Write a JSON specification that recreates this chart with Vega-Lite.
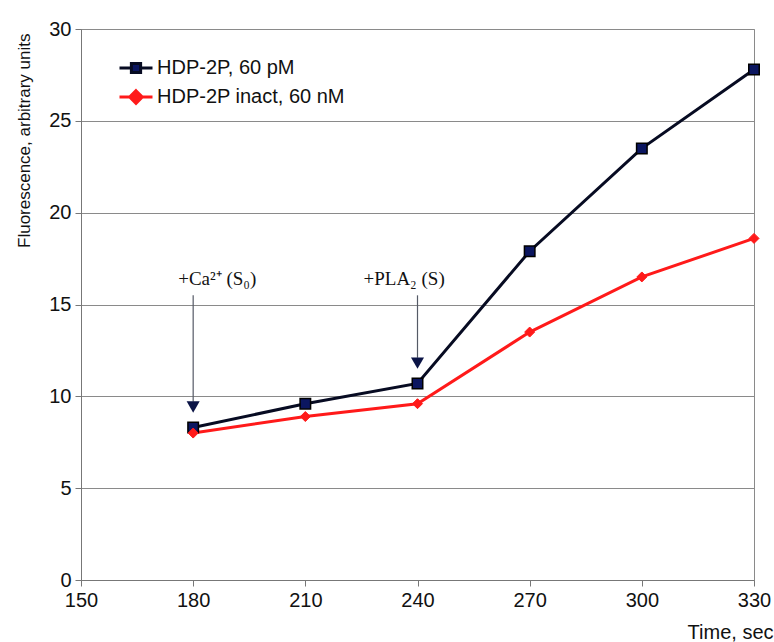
{
  "$schema": "https://vega.github.io/schema/vega-lite/v6.json",
  "width": 673,
  "height": 551,
  "autosize": {"type": "none"},
  "padding": {"left": 81, "top": 29, "right": 20, "bottom": 62},
  "background": "white",
  "config": {
    "view": {"stroke": "#8a8a8a", "strokeWidth": 1},
    "font": "Liberation Sans"
  },
  "datasets": {
    "series": [
      {"time": 180, "value": 8.3, "series": "HDP-2P, 60 pM"},
      {"time": 210, "value": 9.6, "series": "HDP-2P, 60 pM"},
      {"time": 240, "value": 10.7, "series": "HDP-2P, 60 pM"},
      {"time": 270, "value": 17.9, "series": "HDP-2P, 60 pM"},
      {"time": 300, "value": 23.5, "series": "HDP-2P, 60 pM"},
      {"time": 330, "value": 27.8, "series": "HDP-2P, 60 pM"},
      {"time": 180, "value": 8.0, "series": "HDP-2P inact, 60 nM"},
      {"time": 210, "value": 8.9, "series": "HDP-2P inact, 60 nM"},
      {"time": 240, "value": 9.6, "series": "HDP-2P inact, 60 nM"},
      {"time": 270, "value": 13.5, "series": "HDP-2P inact, 60 nM"},
      {"time": 300, "value": 16.5, "series": "HDP-2P inact, 60 nM"},
      {"time": 330, "value": 18.6, "series": "HDP-2P inact, 60 nM"}
    ],
    "arrows": [
      {"time": 180, "top": 15.5, "bottom": 9.7, "head": 9.42, "labelY": 16.06, "label": "+Ca²⁺ (S₀)"},
      {"time": 240, "top": 15.5, "bottom": 12.1, "head": 11.81, "labelY": 16.06, "label": "+PLA₂ (S)"}
    ]
  },
  "layer": [
    {
      "data": {"name": "arrows"},
      "mark": {"type": "rule", "color": "#555a66", "strokeWidth": 1.2},
      "encoding": {
        "x": {"field": "time", "type": "quantitative", "scale": {"domain": [150, 330]}},
        "y": {"field": "top", "type": "quantitative"},
        "y2": {"field": "bottom"}
      }
    },
    {
      "data": {"name": "arrows"},
      "mark": {"type": "point", "shape": "triangle-down", "filled": true, "color": "#0b1446", "size": 170, "opacity": 1},
      "encoding": {
        "x": {"field": "time", "type": "quantitative"},
        "y": {"field": "head", "type": "quantitative"}
      }
    },
    {
      "data": {"name": "arrows"},
      "transform": [{"filter": "datum.time === 180"}],
      "mark": {"type": "text", "font": "Liberation Serif", "fontSize": 19, "color": "#111", "align": "left", "baseline": "alphabetic", "dx": -15},
      "encoding": {
        "x": {"field": "time", "type": "quantitative"},
        "y": {"field": "labelY", "type": "quantitative"},
        "text": {"field": "label"}
      }
    },
    {
      "data": {"name": "arrows"},
      "transform": [{"filter": "datum.time === 240"}],
      "mark": {"type": "text", "font": "Liberation Serif", "fontSize": 19, "color": "#111", "align": "left", "baseline": "alphabetic", "dx": -54},
      "encoding": {
        "x": {"field": "time", "type": "quantitative"},
        "y": {"field": "labelY", "type": "quantitative"},
        "text": {"field": "label"}
      }
    },
    {
      "data": {"name": "series"},
      "mark": {"type": "line", "strokeWidth": 3},
      "encoding": {
        "x": {
          "field": "time", "type": "quantitative",
          "scale": {"domain": [150, 330], "nice": false, "zero": false},
          "axis": {
            "values": [150, 180, 210, 240, 270, 300, 330],
            "grid": false,
            "title": "Time, sec",
            "titleFontSize": 20,
            "titleFontWeight": "normal",
            "titleColor": "#111",
            "titleAnchor": "end",
            "titleAlign": "right",
            "titleBaseline": "alphabetic",
            "titleX": 692,
            "titleY": 58,
            "labelFontSize": 20,
            "labelColor": "#111",
            "labelPadding": 4,
            "tickSize": 6,
            "tickColor": "#777",
            "domainColor": "#777",
            "labelFlush": false
          }
        },
        "y": {
          "field": "value", "type": "quantitative",
          "scale": {"domain": [0, 30], "nice": false},
          "axis": {
            "values": [0, 5, 10, 15, 20, 25, 30],
            "grid": true,
            "gridColor": "#8a8a8a",
            "gridWidth": 1,
            "title": "Fluorescence, arbitrary units",
            "titleFontSize": 17,
            "titleFontWeight": "normal",
            "titleColor": "#111",
            "titleAnchor": "end",
            "titleAlign": "right",
            "titleBaseline": "bottom",
            "titleAngle": -90,
            "titleX": -48,
            "titleY": 4,
            "labelFontSize": 20,
            "labelColor": "#111",
            "labelPadding": 4,
            "tickSize": 6,
            "tickColor": "#777",
            "domainColor": "#777",
            "labelFlush": false
          }
        },
        "color": {
          "field": "series", "type": "nominal",
          "scale": {"domain": ["HDP-2P, 60 pM", "HDP-2P inact, 60 nM"], "range": ["#070b22", "#ff1a1a"]},
          "legend": {
            "title": null,
            "orient": "none",
            "legendX": 37,
            "legendY": 21,
            "padding": 0,
            "rowPadding": 0,
            "symbolSize": 1089,
            "symbolStrokeWidth": 3,
            "labelOffset": 3,
            "labelFontSize": 20,
            "labelColor": "#111",
            "labelLimit": 400,
            "encode": {
              "symbols": {
                "update": {
                  "shape": {"signal": "datum.value === 'HDP-2P, 60 pM' ? 'M-1,0H-0.28M0.28,0H1M-0.28,-0.28H0.28V0.28H-0.28Z' : 'M-1,0H-0.38M0.38,0H1M0,-0.38L0.38,0L0,0.38L-0.38,0Z'"},
                  "fill": {"signal": "datum.value === 'HDP-2P, 60 pM' ? '#0b1660' : '#ff1a1a'"},
                  "stroke": {"signal": "datum.value === 'HDP-2P, 60 pM' ? '#070b22' : '#ff1a1a'"},
                  "strokeWidth": {"value": 3},
                  "opacity": {"value": 1}
                }
              }
            }
          }
        }
      }
    },
    {
      "data": {"name": "series"},
      "transform": [{"filter": "datum.series === 'HDP-2P, 60 pM'"}],
      "mark": {"type": "point", "shape": "square", "filled": true, "fill": "#0b1660", "stroke": "#000000", "strokeWidth": 1.5, "opacity": 1, "size": 110},
      "encoding": {
        "x": {"field": "time", "type": "quantitative"},
        "y": {"field": "value", "type": "quantitative"}
      }
    },
    {
      "data": {"name": "series"},
      "transform": [{"filter": "datum.series === 'HDP-2P inact, 60 nM'"}],
      "mark": {"type": "point", "shape": "diamond", "filled": true, "fill": "#ff1a1a", "stroke": "#ff1a1a", "strokeWidth": 1, "opacity": 1, "size": 100},
      "encoding": {
        "x": {"field": "time", "type": "quantitative"},
        "y": {"field": "value", "type": "quantitative"}
      }
    }
  ]
}
